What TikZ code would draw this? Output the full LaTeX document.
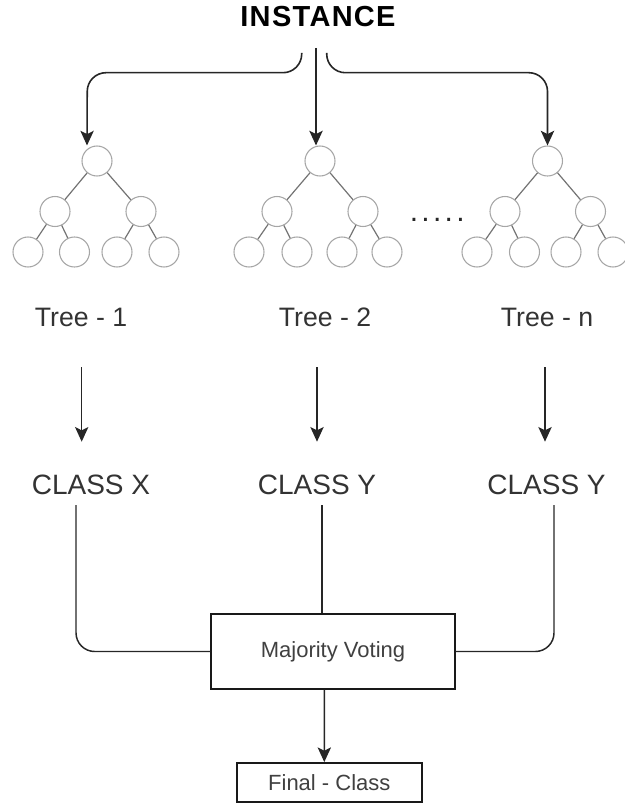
\documentclass[tikz,border=0pt]{standalone}
\usepackage{fontspec}
\setmainfont{Liberation Sans}
\newfontfamily\instfont[LetterSpace=4.5]{Liberation Sans}
\newfontfamily\dotfont[LetterSpace=11]{Liberation Sans}
\usetikzlibrary{arrows.meta}
\tikzset{
  arr/.style={draw=black!85, line width=1.2pt, -{Stealth[length=11pt,width=10pt,inset=2.5pt]}},
  conn/.style={draw=black!85, line width=1.1pt, rounded corners=14pt},
  tnode/.style={circle, draw=black!35, line width=0.8pt, minimum size=22.5pt, inner sep=0pt},
  tedge/.style={draw=black!55, line width=0.9pt},
  lbl/.style={text=black!80, font=\fontsize{20pt}{24pt}\selectfont, anchor=base, inner sep=0pt},
  cls/.style={text=black!80, font=\fontsize{21pt}{25pt}\selectfont, anchor=base, inner sep=0pt},
  box/.style={draw=black!90, line width=1.1pt, rectangle, inner sep=0pt, text=black!75, font=\fontsize{16.5pt}{20pt}\selectfont},
}
\begin{document}
\begin{tikzpicture}[x=0.75pt,y=-0.75pt]
\useasboundingbox (0,0) rectangle (624,805);

% title
\node[anchor=base, inner sep=0pt, font=\instfont\bfseries\fontsize{21.75pt}{26pt}\selectfont] (inst) at (318,26.7) {INSTANCE};

% tree 1
\node[tnode] (r1) at (97,161) {};
\node[tnode] (c1a) at (55,211.5) {};
\node[tnode] (c1b) at (141,211.5) {};
\node[tnode] (l1a) at (28,252) {};
\node[tnode] (l1b) at (74.5,252) {};
\node[tnode] (l1c) at (117,252) {};
\node[tnode] (l1d) at (164,252) {};
\draw[tedge] (r1) -- (c1a); \draw[tedge] (r1) -- (c1b);
\draw[tedge] (c1a) -- (l1a); \draw[tedge] (c1a) -- (l1b);
\draw[tedge] (c1b) -- (l1c); \draw[tedge] (c1b) -- (l1d);

% tree 2
\node[tnode] (r2) at (320,161) {};
\node[tnode] (c2a) at (277,211.5) {};
\node[tnode] (c2b) at (363,211.5) {};
\node[tnode] (l2a) at (249,252) {};
\node[tnode] (l2b) at (297,252) {};
\node[tnode] (l2c) at (342,252) {};
\node[tnode] (l2d) at (387,252) {};
\draw[tedge] (r2) -- (c2a); \draw[tedge] (r2) -- (c2b);
\draw[tedge] (c2a) -- (l2a); \draw[tedge] (c2a) -- (l2b);
\draw[tedge] (c2b) -- (l2c); \draw[tedge] (c2b) -- (l2d);

% tree n
\node[tnode] (rn) at (547.5,161) {};
\node[tnode] (cna) at (505,211.5) {};
\node[tnode] (cnb) at (590.5,211.5) {};
\node[tnode] (lna) at (477,252) {};
\node[tnode] (lnb) at (524.5,252) {};
\node[tnode] (lnc) at (566,252) {};
\node[tnode] (lnd) at (613,252) {};
\draw[tedge] (rn) -- (cna); \draw[tedge] (rn) -- (cnb);
\draw[tedge] (cna) -- (lna); \draw[tedge] (cna) -- (lnb);
\draw[tedge] (cnb) -- (lnc); \draw[tedge] (cnb) -- (lnd);

% dots
\node[anchor=base west, inner sep=0pt, font=\dotfont\fontsize{22.5pt}{26pt}\selectfont, text=black!85] (dots) at (409.5,222) {.....};

% instance arrows
\coordinate (bl) at (301.7,53);
\coordinate (bc) at (316,48);
\coordinate (br) at (326.7,53);
\draw[arr, rounded corners=14pt] (bl) -- (301.7,72.7) -- (87.3,72.7) -- ([xshift=-7.5pt]r1.north);
\draw[arr] (bc) -- ([xshift=-3pt]r2.north);
\draw[arr, rounded corners=14pt] (br) -- (326.7,72.7) -- (547.5,72.7) -- (rn.north);

% tree labels
\node[lbl] (t1) at (81,326.7) {Tree - 1};
\node[lbl] (t2) at (325,326.7) {Tree - 2};
\node[lbl] (tn) at (547,326.7) {Tree - n};

% class labels
\node[cls] (k1) at (91,494) {CLASS X};
\node[cls] (k2) at (317,494) {CLASS Y};
\node[cls] (kn) at (546.5,494) {CLASS Y};

% tree -> class arrows
\coordinate (a1s) at (81.7,367); \coordinate (a1e) at (81.7,441.7);
\coordinate (a2s) at (317,367);  \coordinate (a2e) at (317,441.7);
\coordinate (ans) at (545,367);  \coordinate (ane) at (545,441.7);
\draw[arr, line width=1pt] (a1s) -- (a1e);
\draw[arr, line width=1pt] (a2s) -- (a2e);
\draw[arr, line width=1pt] (ans) -- (ane);

% voting box
\node[box, minimum width=183pt, minimum height=56.25pt] (mv) at (333,651.5) {Majority Voting};
\node[box, minimum width=138.75pt, minimum height=29.25pt] (fc) at (329.3,782.3) {Final - Class};

% class -> box
\coordinate (v1) at (76,505);
\coordinate (v2) at (322,505);
\coordinate (vn) at (554,505);
\draw[conn] (v1) |- (mv.west);
\draw[conn] (v2) -- (v2 |- mv.north);
\draw[conn] (vn) |- (mv.east);

% box -> final
\draw[arr] ([xshift=-6.5pt]mv.south) -- ([xshift=-3.75pt]fc.north);
\end{tikzpicture}
\end{document}
